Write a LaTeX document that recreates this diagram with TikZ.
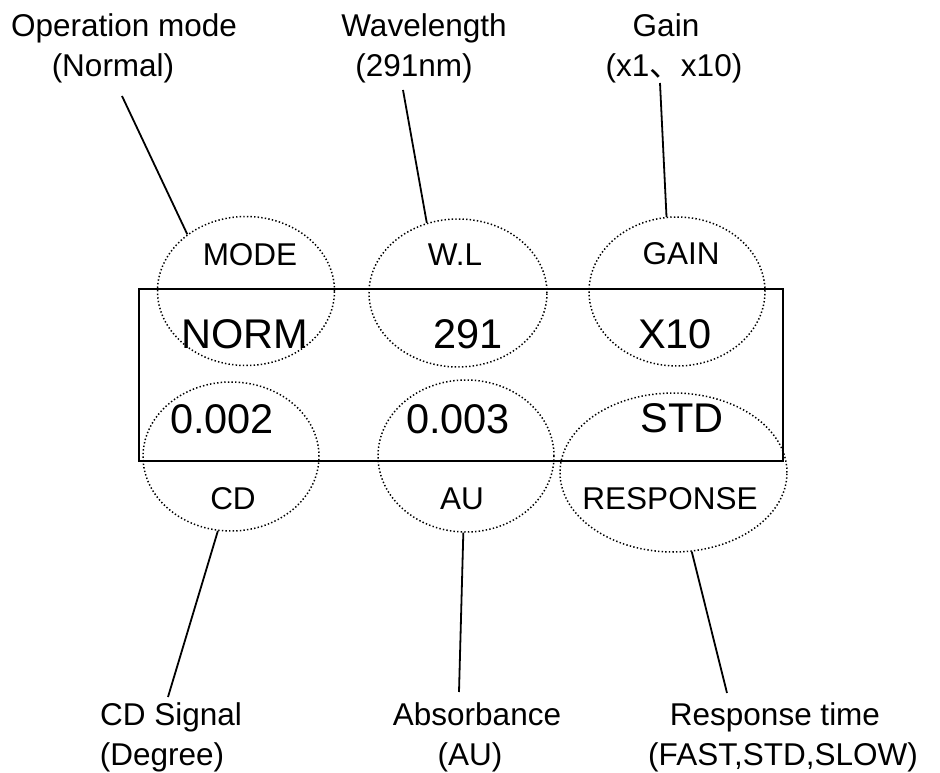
\documentclass[tikz,border=0pt]{standalone}
\usepackage{fontspec}
\setmainfont{Liberation Sans}
\newfontfamily\cjkfont{Noto Sans CJK SC}
\usetikzlibrary{shapes.geometric}

\begin{document}
\begin{tikzpicture}[x=1pt,y=-1pt,
  lbl/.style={font=\fontsize{31.5}{38}\selectfont, inner sep=0pt, anchor=base},
  val/.style={font=\fontsize{41.5}{50}\selectfont, inner sep=0pt, anchor=base},
  callout/.style={draw, ellipse, inner sep=0pt, line width=1.5pt,
                  dash pattern=on 1.4pt off 2.2pt},
  leader/.style={line width=1.8pt},
  panel/.style={draw, line width=2pt, inner sep=0pt}]

\useasboundingbox (0,0) rectangle (940,773);

% display panel
\node[panel, minimum width=644pt, minimum height=172pt] (panel) at (461,375) {};

% dotted callout rings
\node[callout, minimum width=177pt, minimum height=149pt] (mode) at (246,291) {};
\node[callout, minimum width=178pt, minimum height=148pt] (wl)   at (458,293) {};
\node[callout, minimum width=176pt, minimum height=149pt] (gain) at (677,291.5) {};
\node[callout, minimum width=176pt, minimum height=149pt] (cd)   at (231,456.5) {};
\node[callout, minimum width=176pt, minimum height=152pt] (au)   at (466,456) {};
\node[callout, minimum width=227pt, minimum height=159pt] (resp) at (673.5,472.5) {};

% field names
\node[lbl] (modeName) at (250,265) {MODE};
\node[lbl] (wlName)   at (455,265) {W.L};
\node[lbl] (gainName) at (681,264) {GAIN};
\node[lbl] (cdName)   at (233,509) {CD};
\node[lbl] (auName)   at (462,509) {AU};
\node[lbl] (respName) at (670,509) {RESPONSE};

% field values
\node[val] (modeVal) at (245,348) {NORM};
\node[val] (wlVal)   at (468,348) {291};
\node[val] (gainVal) at (675,348) {X10};
\node[val] (cdVal)   at (222,433) {0.002};
\node[val] (auVal)   at (458,433) {0.003};
\node[val] (respVal) at (682,432) {STD};

% descriptions above the panel
\node[lbl] (modeTxtA) at (124,37) {Operation mode};
\node[lbl] (modeTxtB) at (113,77) {(Normal)};
\node[lbl] (wlTxtA)   at (424,37) {Wavelength};
\node[lbl] (wlTxtB)   at (414,77) {(291nm)};
\node[lbl] (gainTxtA) at (666,37) {Gain};
\node[lbl] (gainTxtB) at (674,77) {(x1{\cjkfont 、}x10)};

% descriptions below the panel
\node[lbl] (cdTxtA)   at (171,725) {CD Signal};
\node[lbl] (cdTxtB)   at (162,765) {(Degree)};
\node[lbl] (auTxtA)   at (477,725) {Absorbance};
\node[lbl] (auTxtB)   at (470,765) {(AU)};
\node[lbl] (respTxtA) at (775,725) {Response time};
\node[lbl] (respTxtB) at (783,765) {(FAST,STD,SLOW)};

% leader line ends
\coordinate (modeEnd) at (122,96);
\coordinate (wlEnd)   at (403,90);
\coordinate (gainEnd) at (660,83);
\coordinate (cdEnd)   at (168,697);
\coordinate (auEnd)   at (459,692);
\coordinate (respEnd) at (727,693);

% leader lines
\draw[leader] (mode.136)  -- (modeEnd);
\draw[leader] (wl.114.6)  -- (wlEnd);
\draw[leader] (gain.98.4) -- (gainEnd);
\draw[leader] (cd.260)    -- (cdEnd);
\draw[leader] (au.268)    -- (auEnd);
\draw[leader] (resp.283)  -- (respEnd);

\end{tikzpicture}
\end{document}
